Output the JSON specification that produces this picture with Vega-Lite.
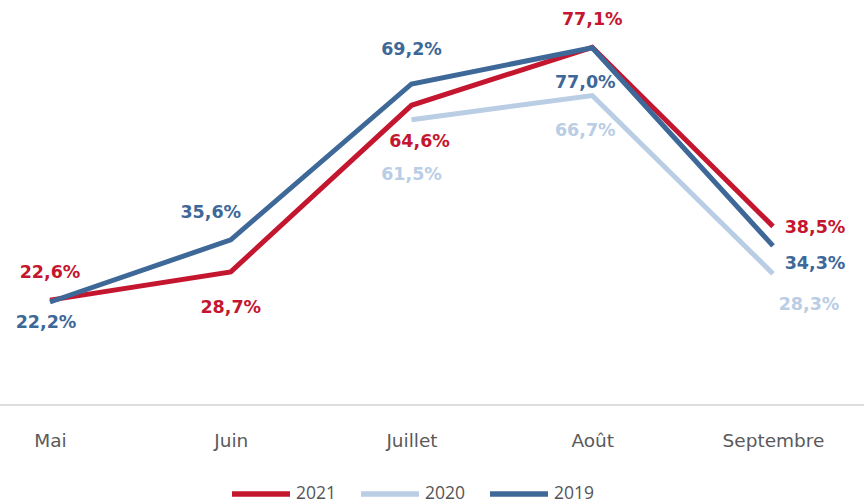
{
  "$schema": "https://vega.github.io/schema/vega-lite/v6.json",
  "width": 864,
  "height": 405,
  "padding": {"left": 0, "top": 0, "right": 0, "bottom": 99},
  "autosize": {"type": "none"},
  "background": "white",
  "config": {
    "view": {"stroke": null},
    "font": "DejaVu Sans",
    "text": {"font": "DejaVu Sans", "fontWeight": "bold", "fontSize": 17.5}
  },
  "data": {
    "values": [
      {"month": "Mai", "year": "2021", "value": 22.6},
      {"month": "Juin", "year": "2021", "value": 28.7},
      {"month": "Juillet", "year": "2021", "value": 64.6},
      {"month": "Août", "year": "2021", "value": 77.1},
      {"month": "Septembre", "year": "2021", "value": 38.5},
      {"month": "Juillet", "year": "2020", "value": 61.5},
      {"month": "Août", "year": "2020", "value": 66.7},
      {"month": "Septembre", "year": "2020", "value": 28.3},
      {"month": "Mai", "year": "2019", "value": 22.2},
      {"month": "Juin", "year": "2019", "value": 35.6},
      {"month": "Juillet", "year": "2019", "value": 69.2},
      {"month": "Août", "year": "2019", "value": 77.0},
      {"month": "Septembre", "year": "2019", "value": 34.3}
    ]
  },
  "transform": [
    {"calculate": "replace(format(datum.value, '.1f'), '.', ',') + '%'", "as": "label"}
  ],
  "encoding": {
    "x": {
      "field": "month",
      "type": "nominal",
      "sort": ["Mai", "Juin", "Juillet", "Août", "Septembre"],
      "scale": {"type": "point", "range": [50, 773], "padding": 0},
      "axis": {
        "title": null,
        "domain": false,
        "ticks": false,
        "grid": false,
        "labelAngle": 0,
        "labelFontSize": 18.5,
        "labelColor": "#5a5a5a",
        "labelPadding": 26,
        "labelFont": "DejaVu Sans"
      }
    },
    "y": {
      "field": "value",
      "type": "quantitative",
      "scale": {"domain": [0, 87.3], "nice": false, "zero": true},
      "axis": null
    }
  },
  "layer": [
    {
      "mark": {"type": "rule", "color": "#dddddd", "strokeWidth": 1.5},
      "encoding": {"y": {"datum": 0, "type": "quantitative"}, "x": null}
    },
    {
      "transform": [{"filter": "datum.year == '2020'"}],
      "mark": {"type": "line", "strokeWidth": 5},
      "encoding": {
        "color": {
          "field": "year",
          "type": "nominal",
          "scale": {"domain": ["2021", "2020", "2019"], "range": ["#c4162f", "#b9cde5", "#3e6898"]},
          "legend": {
            "title": null,
            "orient": "none",
            "direction": "horizontal",
            "legendX": 229,
            "legendY": 462,
            "symbolType": "stroke",
            "symbolSize": 3364,
            "symbolStrokeWidth": 5.5,
            "labelFontSize": 17.5,
            "labelColor": "#555555",
            "labelOffset": 3,
            "columnPadding": 13,
            "labelFont": "Open Sans"
          }
        }
      }
    },
    {
      "transform": [{"filter": "datum.year == '2021'"}],
      "mark": {"type": "line", "strokeWidth": 5},
      "encoding": {"color": {"field": "year", "type": "nominal"}}
    },
    {
      "transform": [{"filter": "datum.year == '2019'"}],
      "mark": {"type": "line", "strokeWidth": 5},
      "encoding": {"color": {"field": "year", "type": "nominal"}}
    },
    {
      "transform": [{"filter": "(datum.year == '2021' && (datum.month == 'Mai' || datum.month == 'Août'))"}],
      "mark": {"type": "text", "dy": -27},
      "encoding": {"text": {"field": "label"}, "color": {"field": "year", "type": "nominal"}}
    },
    {
      "transform": [{"filter": "datum.year == '2019' && datum.month == 'Mai'"}],
      "mark": {"type": "text", "dy": 21, "dx": -4},
      "encoding": {"text": {"field": "label"}, "color": {"field": "year", "type": "nominal"}}
    },
    {
      "transform": [{"filter": "datum.year == '2019' && datum.month == 'Juin'"}],
      "mark": {"type": "text", "dy": -27, "dx": -20},
      "encoding": {"text": {"field": "label"}, "color": {"field": "year", "type": "nominal"}}
    },
    {
      "transform": [{"filter": "datum.year == '2021' && datum.month == 'Juin'"}],
      "mark": {"type": "text", "dy": 36},
      "encoding": {"text": {"field": "label"}, "color": {"field": "year", "type": "nominal"}}
    },
    {
      "transform": [{"filter": "datum.year == '2019' && datum.month == 'Juillet'"}],
      "mark": {"type": "text", "dy": -34},
      "encoding": {"text": {"field": "label"}, "color": {"field": "year", "type": "nominal"}}
    },
    {
      "transform": [{"filter": "datum.year == '2021' && datum.month == 'Juillet'"}],
      "mark": {"type": "text", "dy": 37, "dx": 8},
      "encoding": {"text": {"field": "label"}, "color": {"field": "year", "type": "nominal"}}
    },
    {
      "transform": [{"filter": "datum.year == '2020' && datum.month == 'Juillet'"}],
      "mark": {"type": "text", "dy": 55},
      "encoding": {"text": {"field": "label"}, "color": {"field": "year", "type": "nominal"}}
    },
    {
      "transform": [{"filter": "(datum.year == '2019' || datum.year == '2020') && datum.month == 'Août'"}],
      "mark": {"type": "text", "dy": 35, "dx": -7},
      "encoding": {"text": {"field": "label"}, "color": {"field": "year", "type": "nominal"}}
    },
    {
      "transform": [{"filter": "datum.year == '2021' && datum.month == 'Septembre'"}],
      "mark": {"type": "text", "dy": 2, "dx": 42},
      "encoding": {"text": {"field": "label"}, "color": {"field": "year", "type": "nominal"}}
    },
    {
      "transform": [{"filter": "datum.year == '2019' && datum.month == 'Septembre'"}],
      "mark": {"type": "text", "dy": 18, "dx": 42},
      "encoding": {"text": {"field": "label"}, "color": {"field": "year", "type": "nominal"}}
    },
    {
      "transform": [{"filter": "datum.year == '2020' && datum.month == 'Septembre'"}],
      "mark": {"type": "text", "dy": 31, "dx": 36},
      "encoding": {"text": {"field": "label"}, "color": {"field": "year", "type": "nominal"}}
    }
  ]
}
